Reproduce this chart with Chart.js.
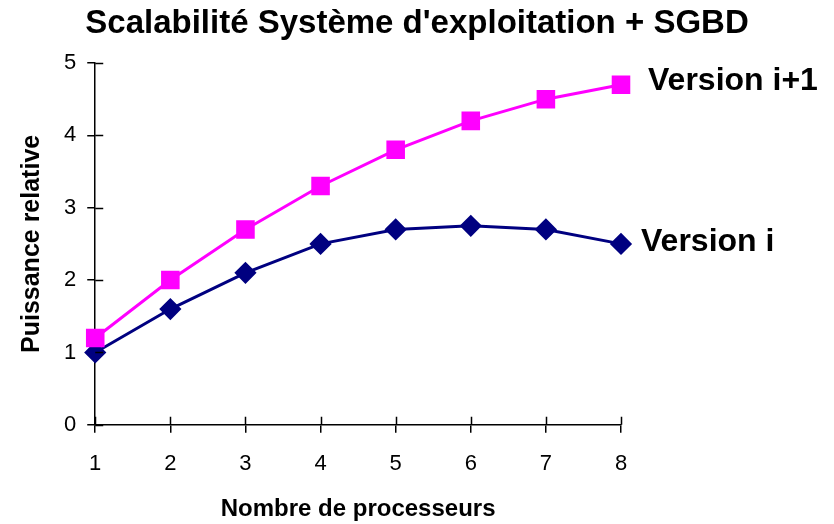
<!DOCTYPE html>
<html><head><meta charset="utf-8">
<script src="https://cdn.jsdelivr.net/npm/chart.js@4/dist/chart.umd.min.js"></script>
<style>html,body{margin:0;padding:0;background:#fff}#wrap{width:834px;height:524px}</style>
</head><body><div id="wrap"><canvas id="c" width="834" height="524"></canvas></div>
<script>
const processors = [1, 2, 3, 4, 5, 6, 7, 8];
const versionI = [1.0, 1.6, 2.1, 2.5, 2.7, 2.75, 2.7, 2.5];
const versionI1 = [1.2, 2.0, 2.7, 3.3, 3.8, 4.2, 4.5, 4.7];
const seriesNames = ['Version i+1', 'Version i'];
const yTicks = [0, 1, 2, 3, 4, 5];
const chartTitle = "Scalabilité Système d'exploitation + SGBD";

const FONT = "'Liberation Sans', Arial, sans-serif";

const pageTitle = {
  id: 'pageTitle',
  afterDraw(chart) {
    const ctx = chart.ctx;
    ctx.save();
    ctx.fillStyle = '#000';
    ctx.font = 'bold 33px ' + FONT;
    ctx.textAlign = 'center';
    ctx.textBaseline = 'middle';
    ctx.fillText(chartTitle, chart.width / 2, 24);
    ctx.restore();
  }
};

const endLabels = {
  id: 'endLabels',
  afterDatasetsDraw(chart) {
    const ctx = chart.ctx;
    ctx.save();
    ctx.fillStyle = '#000';
    ctx.font = 'bold 32px ' + FONT;
    ctx.textBaseline = 'middle';
    ctx.textAlign = 'left';
    chart.data.datasets.forEach((ds, i) => {
      const meta = chart.getDatasetMeta(i);
      const last = meta.data[meta.data.length - 1];
      ctx.fillText(ds.label, last.x + ds.labelGap, last.y + ds.labelDy);
    });
    ctx.restore();
  }
};

const crossTicks = {
  id: 'crossTicks',
  afterDraw(chart) {
    const ctx = chart.ctx, xs = chart.scales.x, ys = chart.scales.y;
    ctx.save();
    ctx.strokeStyle = '#000';
    ctx.lineWidth = 1.5;
    ctx.beginPath();
    xs.ticks.forEach(t => {
      const px = Math.round(xs.getPixelForValue(t.value)) + 0.5;
      ctx.moveTo(px, ys.bottom); ctx.lineTo(px, ys.bottom - 8);
    });
    ys.ticks.forEach(t => {
      const py = Math.round(ys.getPixelForValue(t.value)) + 0.5;
      ctx.moveTo(xs.left, py); ctx.lineTo(xs.left + 8, py);
    });
    ctx.stroke();
    ctx.restore();
  }
};

new Chart(document.getElementById('c'), {
  type: 'line',
  data: {
    datasets: [
      {
        label: seriesNames[0],
        data: processors.map((p, i) => ({x: p, y: versionI1[i]})),
        borderColor: '#ff00ff', backgroundColor: '#ff00ff',
        borderWidth: 3, pointStyle: 'rect', pointRadius: 11, pointHoverRadius: 11,
        clip: false, labelGap: 27, labelDy: -4
      },
      {
        label: seriesNames[1],
        data: processors.map((p, i) => ({x: p, y: versionI[i]})),
        borderColor: '#000080', backgroundColor: '#000080',
        borderWidth: 3, pointStyle: 'rectRot', pointRadius: 9, pointHoverRadius: 9,
        clip: false, labelGap: 20, labelDy: -2
      }
    ]
  },
  options: {
    responsive: false,
    animation: false,
    devicePixelRatio: 1,
    layout: { padding: { left: 17, right: 213, top: 63, bottom: 0 } },
    plugins: {
      legend: { display: false },
      tooltip: { enabled: false },
      title: { display: false }
    },
    scales: {
      x: {
        type: 'linear', min: 1, max: 8,
        afterBuildTicks: s => { s.ticks = processors.map(v => ({value: v})); },
        border: { color: '#000', width: 1.5 },
        grid: { display: true, drawOnChartArea: false, drawTicks: true, tickLength: 8, color: '#000', lineWidth: 1.5 },
        ticks: { color: '#000', font: { family: FONT, size: 22 }, padding: 18 },
        title: { display: true, text: 'Nombre de processeurs', color: '#000',
                 font: { family: FONT, size: 24, weight: 'bold' }, padding: { top: 0, bottom: 0 } }
      },
      y: {
        min: 0, max: 5,
        afterBuildTicks: s => { s.ticks = yTicks.map(v => ({value: v})); },
        border: { color: '#000', width: 1.5 },
        grid: { display: true, drawOnChartArea: false, drawTicks: true, tickLength: 8, color: '#000', lineWidth: 1.5 },
        ticks: { color: '#000', font: { family: FONT, size: 22 }, padding: 11 },
        title: { display: true, text: 'Puissance relative', color: '#000',
                 font: { family: FONT, size: 25, weight: 'bold' }, padding: { top: 0, bottom: 6 } }
      }
    }
  },
  plugins: [pageTitle, endLabels, crossTicks]
});
</script></body></html>
